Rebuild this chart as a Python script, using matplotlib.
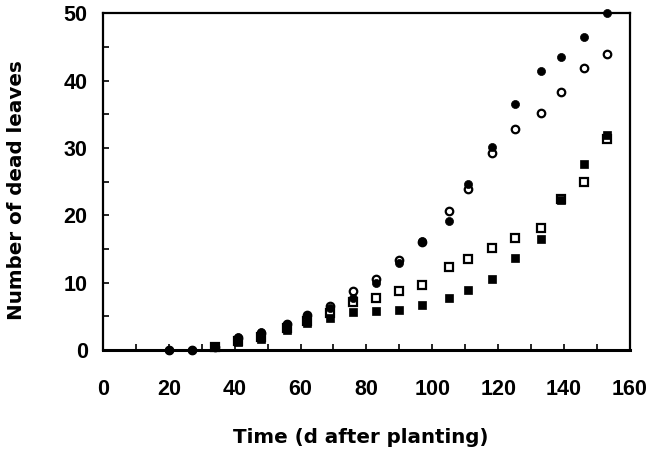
import matplotlib
matplotlib.use("Agg")
import matplotlib.pyplot as plt
from matplotlib.ticker import MultipleLocator

nan = float('nan')
days = [20, 27, 34, 41, 48, 56, 62, 69, 76, 83, 90, 97, 105, 111, 118, 125, 133, 139, 146, 153]
filled_circles = [0, 0, 0.5, 1.9, 2.7, 3.8, 5.0, 6.3, 7.8, 9.9, 12.9, 16.2, 19.1, 24.7, 30.2, 36.6, 41.4, 43.6, 46.5, 50.0]
open_circles = [0, 0, 0.5, 1.8, 2.6, 3.8, 5.2, 6.5, 8.8, 10.6, 13.4, 16.0, 20.6, 23.9, 29.2, 32.9, 35.2, 38.3, 41.9, 44.0]
open_squares = [nan, nan, 0.5, 1.3, 2.0, 3.3, 4.3, 5.5, 7.2, 7.8, 8.8, 9.6, 12.4, 13.5, 15.2, 16.7, 18.1, 22.4, 25.0, 31.4]
filled_squares = [nan, nan, 0.6, 1.2, 1.6, 3.0, 4.0, 4.8, 5.7, 5.8, 5.9, 6.7, 7.8, 8.9, 10.6, 13.6, 16.5, 22.3, 27.7, 32.0]

xticks = [0, 20, 40, 60, 80, 100, 120, 140, 160]
yticks = [0, 10, 20, 30, 40, 50]

plt.rcParams['font.family'] = ['Liberation Sans', 'DejaVu Sans']

fig = plt.figure(figsize=(6.52, 4.63), dpi=100)
ax = fig.add_axes([0.158, 0.244, 0.808, 0.727])

ms = 5.8
ax.plot(days, open_squares, linestyle='none', marker='s', markersize=ms - 0.6,
        markerfacecolor='white', markeredgecolor='black', markeredgewidth=1.6, clip_on=False, zorder=3)
ax.plot(days, filled_squares, linestyle='none', marker='s', markersize=ms - 0.3,
        markerfacecolor='black', markeredgecolor='black', markeredgewidth=0.5, clip_on=False, zorder=4)
ax.plot(days, open_circles, linestyle='none', marker='o', markersize=ms - 0.4,
        markerfacecolor='white', markeredgecolor='black', markeredgewidth=1.6, clip_on=False, zorder=5)
ax.plot(days, filled_circles, linestyle='none', marker='o', markersize=ms,
        markerfacecolor='black', markeredgecolor='black', markeredgewidth=0.5, clip_on=False, zorder=6)

ax.set_xlim(0, 160)
ax.set_ylim(0, 50)
ax.set_xticks(xticks)
ax.set_yticks(yticks)
ax.xaxis.set_minor_locator(MultipleLocator(10))
ax.yaxis.set_minor_locator(MultipleLocator(5))
ax.tick_params(axis='both', which='both', direction='in', top=False, right=False, width=1.2)
ax.tick_params(axis='both', which='major', length=4)
ax.tick_params(axis='both', which='minor', length=4)
ax.tick_params(axis='x', which='major', pad=21)
ax.tick_params(axis='y', which='major', pad=11)
for lab in ax.get_xticklabels() + ax.get_yticklabels():
    lab.set_fontsize(15.5)
    lab.set_fontweight('bold')

for s in ax.spines.values():
    s.set_linewidth(1.6)
ax.spines['bottom'].set_linewidth(2.2)

ax.set_xlabel('Time (d after planting)', fontsize=14.3, fontweight='bold',
              family=['DejaVu Sans'])
ax.set_ylabel('Number of dead leaves', fontsize=14.3, fontweight='bold',
              family=['DejaVu Sans'])
ax.xaxis.set_label_coords(0.49, -0.232)
ax.yaxis.set_label_coords(-0.146, 0.475)

fig.savefig('out.png', dpi=100)
